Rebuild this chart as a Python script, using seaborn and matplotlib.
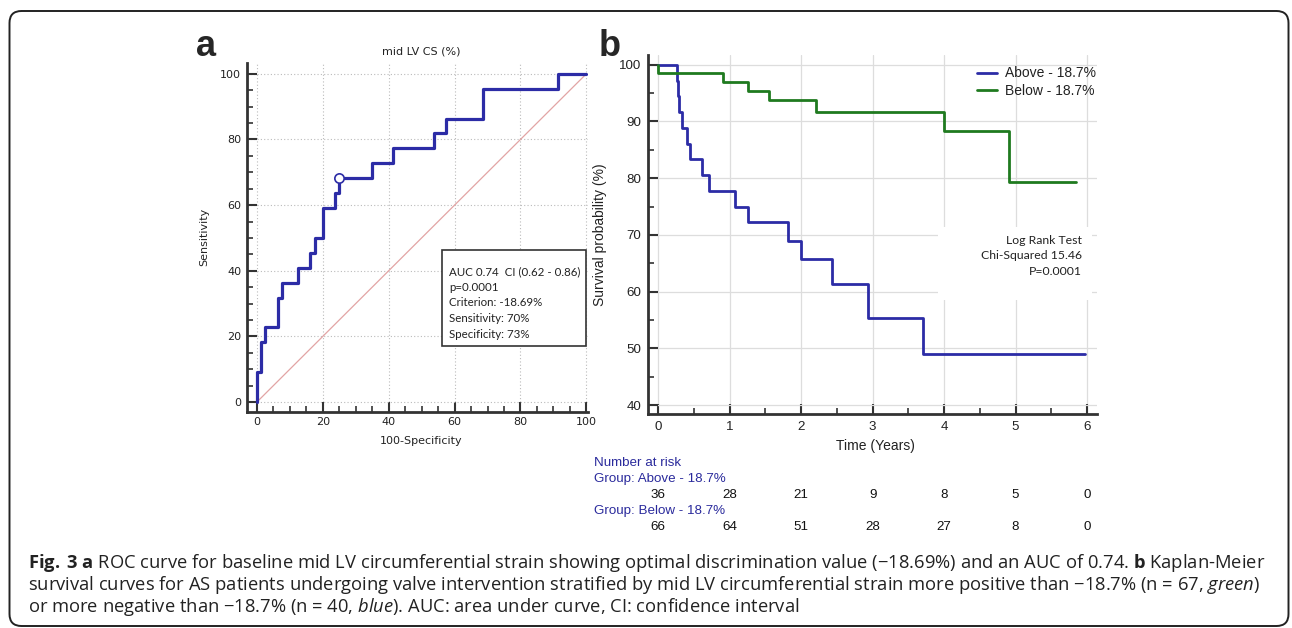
import numpy as np
import pandas as pd
import matplotlib.pyplot as plt
import matplotlib.transforms as mtransforms
from matplotlib.patches import FancyBboxPatch, Rectangle
from matplotlib.ticker import MultipleLocator
import seaborn as sns

# ROC curve for mid LV CS: 100-specificity vs sensitivity (step vertices)
roc_fpr = [0, 1.25, 2.5, 6.25, 7.5, 12.5, 16.25, 17.5, 20, 23.75, 25, 35, 41.25, 53.75, 57.5, 68.75, 91.25, 100]
roc_tpr = [0, 9.09, 18.18, 22.73, 31.82, 36.36, 40.91, 45.45, 50, 59.09, 63.64, 68.18, 72.73, 77.27, 81.82, 86.36, 95.45, 100]
cut_fpr = [25]
cut_tpr = [68.18]
roc_stats = ["AUC 0.74  CI (0.62 - 0.86)", "p=0.0001", "Criterion: -18.69%",
             "Sensitivity: 70%", "Specificity: 73%"]

# Kaplan-Meier curves
above_t = [0, 0.26, 0.275, 0.285, 0.33, 0.40, 0.445, 0.605, 0.705, 1.08, 1.26, 1.81, 2.0, 2.435, 2.94, 3.70, 5.97]
above_s = [100, 97.2, 94.4, 91.7, 88.9, 86.1, 83.3, 80.6, 77.8, 75.0, 72.2, 69.0, 65.8, 61.4, 55.3, 49.0, 49.0]
below_t = [0, 0, 0.90, 1.25, 1.55, 2.21, 4.0, 4.91, 5.84]
below_s = [100, 98.5, 97.0, 95.4, 93.8, 91.7, 88.3, 79.4, 79.4]
groups = ["Above - 18.7%", "Below - 18.7%"]
logrank = ["Log Rank Test", "Chi-Squared 15.46", "P=0.0001"]

# number at risk
risk_times = [0, 1, 2, 3, 4, 5, 6]
risk_above = [36, 28, 21, 9, 8, 5, 0]
risk_below = [66, 64, 51, 28, 27, 8, 0]

caption = [
    r"$\mathbf{Fig.\;3\;a}$ ROC curve for baseline mid LV circumferential strain showing optimal discrimination value (−18.69%) and an AUC of 0.74. $\mathbf{b}$ Kaplan-Meier",
    r"survival curves for AS patients undergoing valve intervention stratified by mid LV circumferential strain more positive than −18.7% (n = 67, $\mathit{green}$)",
    r"or more negative than −18.7% (n = 40, $\mathit{blue}$). AUC: area under curve, CI: confidence interval",
]

BLUE = "#2c2ca6"
GREEN = "#1f7a1f"
RISK_BLUE = "#2a2a9c"
DARK = "#333333"

sns.set_style("white")
plt.rcParams["font.family"] = ["DejaVu Sans"]
plt.rcParams["mathtext.fontset"] = "custom"
plt.rcParams["mathtext.rm"] = "Open Sans"
plt.rcParams["mathtext.bf"] = "Open Sans:bold"
plt.rcParams["mathtext.it"] = "Open Sans:italic"

W, H = 1292, 628
fig = plt.figure(figsize=(W / 100, H / 100), dpi=100)


def fx(px):
    return px / W


def fy(py):
    return 1 - py / H


# rounded frame around the whole figure
frame = FancyBboxPatch((0.095, 0.02), 12.79, 6.15, boxstyle="round,pad=0,rounding_size=0.12",
                       transform=fig.dpi_scale_trans, fill=False, edgecolor="#222222", linewidth=1.4)
fig.patches.append(frame)

# ---------------- panel a: ROC ----------------
ax1 = fig.add_axes([fx(246.7), fy(411.7), (588 - 246.7) / W, (411.7 - 63) / H])
ax1.plot([0, 100], [0, 100], color="#e2a4a4", lw=0.9, zorder=1.5)
sns.lineplot(x=roc_fpr, y=roc_tpr, drawstyle="steps-pre", estimator=None, sort=False,
             color=BLUE, lw=2.3, ax=ax1, zorder=3)
sns.scatterplot(x=cut_fpr, y=cut_tpr, s=45, color="white", edgecolor=BLUE, linewidth=1.2,
                ax=ax1, zorder=4)
ax1.set_xlim(-3.1, 100.5)
ax1.set_ylim(-2.95, 103.3)
ax1.xaxis.set_major_locator(MultipleLocator(20))
ax1.yaxis.set_major_locator(MultipleLocator(20))
ax1.xaxis.set_minor_locator(MultipleLocator(5))
ax1.yaxis.set_minor_locator(MultipleLocator(5))
ax1.set_axisbelow(True)
ax1.grid(True, which="major", linestyle=(0, (1, 2)), color="#bbbbbb", lw=0.8)
for s in ["top", "right"]:
    ax1.spines[s].set_visible(False)
for s in ["left", "bottom"]:
    ax1.spines[s].set_linewidth(2)
    ax1.spines[s].set_color(DARK)
ax1.tick_params(which="major", direction="in", length=7, width=1.5, color=DARK,
                labelsize=8, labelcolor="#222222", pad=4)
ax1.tick_params(which="minor", direction="in", length=4, width=1.2, color=DARK)
ax1.tick_params(axis="both", which="both", left=True, bottom=True)
ax1.set_xlabel("")
ax1.set_ylabel("")

fig.text(fx(421.7), fy(51), "mid LV CS (%)", ha="center", va="center", fontsize=8, color="#222222")
fig.text(fx(204), fy(237), "Sensitivity", ha="center", va="center", rotation=90, fontsize=8, color="#222222")
fig.text(fx(421), fy(441), "100-Specificity", ha="center", va="center", fontsize=8, color="#222222")

box = Rectangle((fx(442), fy(346)), (586 - 442) / W, (346 - 250) / H, transform=fig.transFigure,
                facecolor="white", edgecolor=DARK, lw=1.2, zorder=5, clip_on=False)
ax1.add_patch(box)
for i, line in enumerate(roc_stats):
    ax1.text(fx(449), fy(271.7 + i * 15.6), line, transform=fig.transFigure, ha="left", va="center",
             fontsize=8.3, family=["Lato", "DejaVu Sans"], color="#222222", zorder=6)

# ---------------- panel b: Kaplan-Meier ----------------
km = pd.concat([
    pd.DataFrame({"time": above_t, "surv": above_s, "group": groups[0]}),
    pd.DataFrame({"time": below_t, "surv": below_s, "group": groups[1]}),
], ignore_index=True)

ax2 = fig.add_axes([fx(648.3), fy(414.3), (1097 - 648.3) / W, (414.3 - 55) / H])
sns.lineplot(data=km, x="time", y="surv", hue="group", palette={groups[0]: BLUE, groups[1]: GREEN},
             drawstyle="steps-post", estimator=None, sort=False, lw=2.0, ax=ax2, zorder=3)
ax2.set_xlim(-0.14, 6.14)
ax2.set_ylim(38.4, 101.7)
ax2.xaxis.set_major_locator(MultipleLocator(1))
ax2.yaxis.set_major_locator(MultipleLocator(10))
ax2.xaxis.set_minor_locator(MultipleLocator(0.5))
ax2.yaxis.set_minor_locator(MultipleLocator(5))
ax2.set_axisbelow(True)
ax2.grid(True, which="major", color="#dddddd", lw=0.9)
for s in ["top", "right"]:
    ax2.spines[s].set_visible(False)
for s in ["left", "bottom"]:
    ax2.spines[s].set_linewidth(2)
    ax2.spines[s].set_color(DARK)
ax2.tick_params(which="major", direction="in", length=7, width=1.5, color=DARK,
                labelsize=9.6, labelcolor="#222222", pad=5)
ax2.tick_params(which="minor", direction="in", length=4, width=1.2, color=DARK)
ax2.tick_params(axis="both", which="both", left=True, bottom=True)
for lab in ax2.get_xticklabels() + ax2.get_yticklabels():
    lab.set_family(["Liberation Sans", "DejaVu Sans"])
ax2.set_xlabel("")
ax2.set_ylabel("")

# white panel behind the log rank result
ax2.add_patch(Rectangle((0.6456, 0.318), 0.3433, 0.2033, transform=ax2.transAxes,
                        facecolor="white", edgecolor="none", zorder=1))
for i, line in enumerate(logrank):
    fig.text(fx(1081.7), fy(240 + i * 15.5), line, ha="right", va="center", fontsize=8.8,
             family=["Lato", "DejaVu Sans"], color="#222222")

leg = ax2.legend(loc="upper left", bbox_to_anchor=(0.7326, 0.968), frameon=False, handlelength=1.45,
                 handletextpad=0.6, labelspacing=0.25, borderpad=0, borderaxespad=0,
                 prop={"family": ["Liberation Sans"], "size": 10})
for t in leg.get_texts():
    t.set_color("#222222")

fig.text(fx(875), fy(446), "Time (Years)", ha="center", va="center", fontsize=10,
         family=["Liberation Sans"], color="#222222")
fig.text(fx(600), fy(235), "Survival probability (%)", ha="center", va="center", rotation=90,
         fontsize=10, family=["Liberation Sans"], color="#222222")

# number at risk table
risk_font = dict(fontsize=9.6, family=["Liberation Sans"], va="center")
fig.text(fx(594), fy(463), "Number at risk", color=RISK_BLUE, ha="left", **risk_font)
fig.text(fx(594), fy(479), "Group: " + groups[0], color=RISK_BLUE, ha="left", **risk_font)
fig.text(fx(594), fy(511), "Group: " + groups[1], color=RISK_BLUE, ha="left", **risk_font)
blend = mtransforms.blended_transform_factory(ax2.transData, fig.transFigure)
for t, a, b in zip(risk_times, risk_above, risk_below):
    ax2.text(t, fy(495), str(a), transform=blend, ha="center", color="#111111", clip_on=False, **risk_font)
    ax2.text(t, fy(527), str(b), transform=blend, ha="center", color="#111111", clip_on=False, **risk_font)

# panel letters
fig.text(fx(196), fy(56), "a", fontsize=26, fontweight="bold", family=["Liberation Sans"], va="baseline")
fig.text(fx(599), fy(56), "b", fontsize=26, fontweight="bold", family=["Liberation Sans"], va="baseline")

# caption
for i, line in enumerate(caption):
    fig.text(fx(28), fy(563 + i * 22), line, ha="left", va="center", fontsize=13.2,
             family=["Open Sans", "DejaVu Sans"], color="#222222")

fig.savefig("out.png", dpi=100)
